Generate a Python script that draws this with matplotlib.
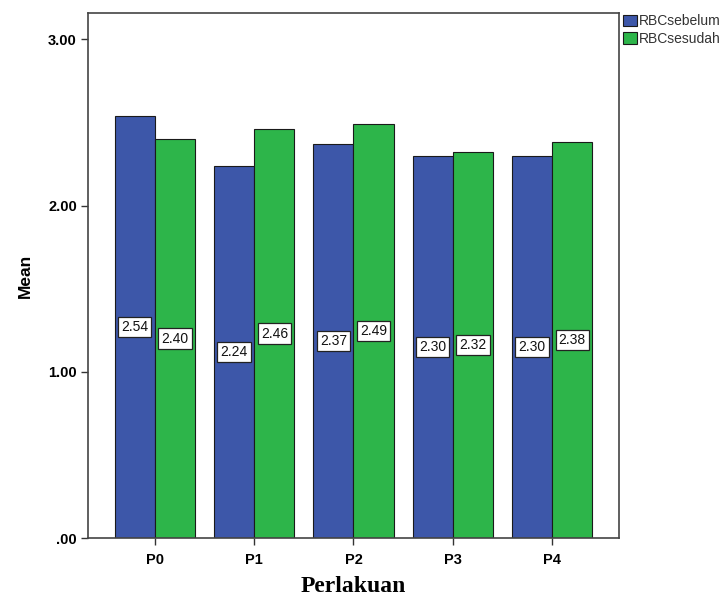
import matplotlib
matplotlib.use('Agg')
import matplotlib.pyplot as plt
import numpy as np

groups = ['P0', 'P1', 'P2', 'P3', 'P4']
rbc_sebelum = [2.54, 2.24, 2.37, 2.30, 2.30]
rbc_sesudah = [2.40, 2.46, 2.49, 2.32, 2.38]
series_names = ['RBCsebelum', 'RBCsesudah']
yticks = [0.0, 1.0, 2.0, 3.0]
ytick_labels = ['.00', '1.00', '2.00', '3.00']

blue = '#3d57a9'
green = '#2db54a'
width = 0.405

fig = plt.figure(figsize=(7.24, 5.98), dpi=100)
ax = fig.add_axes([0.1215, 0.1003, 0.7335, 0.8777])

x = np.arange(len(groups))
b1 = ax.bar(x - width / 2, rbc_sebelum, width, color=blue, edgecolor='#1a1a1a',
            linewidth=0.8, label=series_names[0])
b2 = ax.bar(x + width / 2, rbc_sesudah, width, color=green, edgecolor='#1a1a1a',
            linewidth=0.8, label=series_names[1])

# value boxes sit at half the bar height
for bars, vals in ((b1, rbc_sebelum), (b2, rbc_sesudah)):
    for rect, v in zip(bars, vals):
        ax.text(rect.get_x() + rect.get_width() / 2, v / 2, f'{v:.2f}',
                ha='center', va='center', fontsize=10, family='Liberation Sans',
                color='#111111',
                bbox=dict(boxstyle='square,pad=0.22', facecolor='white',
                          edgecolor='#222222', linewidth=0.9))

ax.set_xlim(-0.675, 4.675)
ax.set_ylim(0, 3.157)
ax.set_xticks(x)
ax.set_xticklabels(groups, fontsize=10.5, fontweight='bold', family='Liberation Sans')
ax.set_yticks(yticks)
ax.set_yticklabels(ytick_labels, fontsize=10.5, fontweight='bold', family='Liberation Sans')
ax.tick_params(axis='both', direction='out', length=5, width=1, color='#333333')
ax.tick_params(axis='x', pad=6)
ax.tick_params(axis='y', pad=3)

for s in ax.spines.values():
    s.set_color('#444444')
    s.set_linewidth(1.2)

ax.set_ylabel('Mean', fontsize=12.5, fontweight='bold', family='Liberation Sans',
              labelpad=11)
ax.set_xlabel('Perlakuan', fontsize=17, fontweight='bold', family='Liberation Serif',
              labelpad=6)

fig.legend(handles=[b1, b2], labels=series_names, loc='upper left',
           bbox_to_anchor=(0.8605, 0.976), frameon=False,
           prop={'family': 'Liberation Sans', 'size': 10},
           labelcolor='#333333',
           handlelength=1.0, handleheight=0.86, handletextpad=0.15,
           labelspacing=0.25, borderaxespad=0, borderpad=0)

fig.savefig('out.png', dpi=100)
